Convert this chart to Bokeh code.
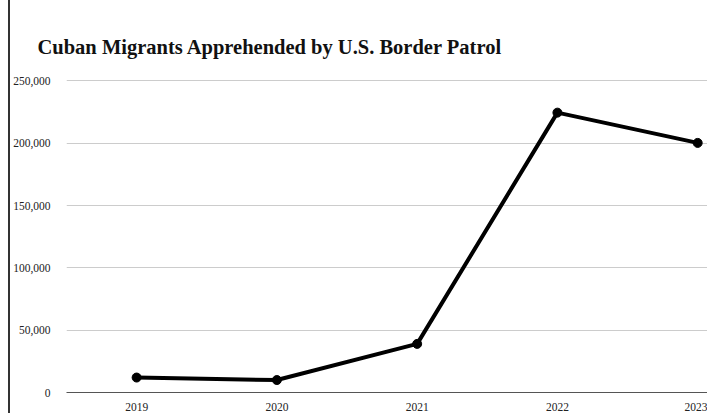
from bokeh.plotting import figure
from bokeh.models import Range1d, FixedTicker, NumeralTickFormatter, Div, CustomJSTickFormatter
from bokeh.layouts import row
from bokeh.embed import file_html
from bokeh.resources import INLINE

years = [2019, 2020, 2021, 2022, 2023]
apprehended = [12000, 10000, 39000, 224600, 200300]
y_ticks = [0, 50000, 100000, 150000, 200000, 250000]
title_text = "Cuban Migrants Apprehended by U.S. Border Patrol"

FONT = "Liberation Serif"

p = figure(width=697, height=413, output_backend="svg", toolbar_location=None,
           x_range=Range1d(2018.5, 2023.07), y_range=Range1d(0, 252000),
           min_border_left=0, min_border_right=0, min_border_top=78, min_border_bottom=0)
p.title.text = title_text
p.title.text_font = FONT
p.title.text_font_size = "20.5px"
p.title.text_font_style = "bold"
p.title.text_color = "#111111"
p.title.offset = -29
p.title.standoff = 42

p.line(years, apprehended, line_color="black", line_width=4)
p.scatter(years, apprehended, size=9, fill_color="black", line_color="black")

p.outline_line_color = None
p.background_fill_color = "white"
p.border_fill_color = "white"

p.xgrid.grid_line_color = None
p.ygrid.grid_line_color = "#cccccc"
p.ygrid.grid_line_width = 1

p.yaxis.ticker = FixedTicker(ticks=y_ticks)
p.yaxis.formatter = NumeralTickFormatter(format="0,0")
p.yaxis.axis_line_color = None
p.yaxis.major_tick_line_color = None
p.yaxis.minor_tick_line_color = None
p.yaxis.major_label_text_font = FONT
p.yaxis.major_label_text_font_size = "11.5px"
p.yaxis.major_label_text_color = "#222222"
p.yaxis.major_label_standoff = 10

p.xaxis.ticker = FixedTicker(ticks=years)
p.xaxis.formatter = CustomJSTickFormatter(code="return String(Math.round(tick));")
p.xaxis.axis_line_color = "#555555"
p.xaxis.major_tick_line_color = None
p.xaxis.minor_tick_line_color = None
p.xaxis.major_label_text_font = FONT
p.xaxis.major_label_text_font_size = "11.5px"
p.xaxis.major_label_text_color = "#222222"
p.xaxis.major_label_standoff = 4

edge = Div(text="", width=10, height=413,
           styles={"border-right": "2px solid #333333", "box-sizing": "border-box", "margin": "0"})

layout = row(edge, p, spacing=0)
open("out.html", "w").write(file_html(layout, INLINE))
